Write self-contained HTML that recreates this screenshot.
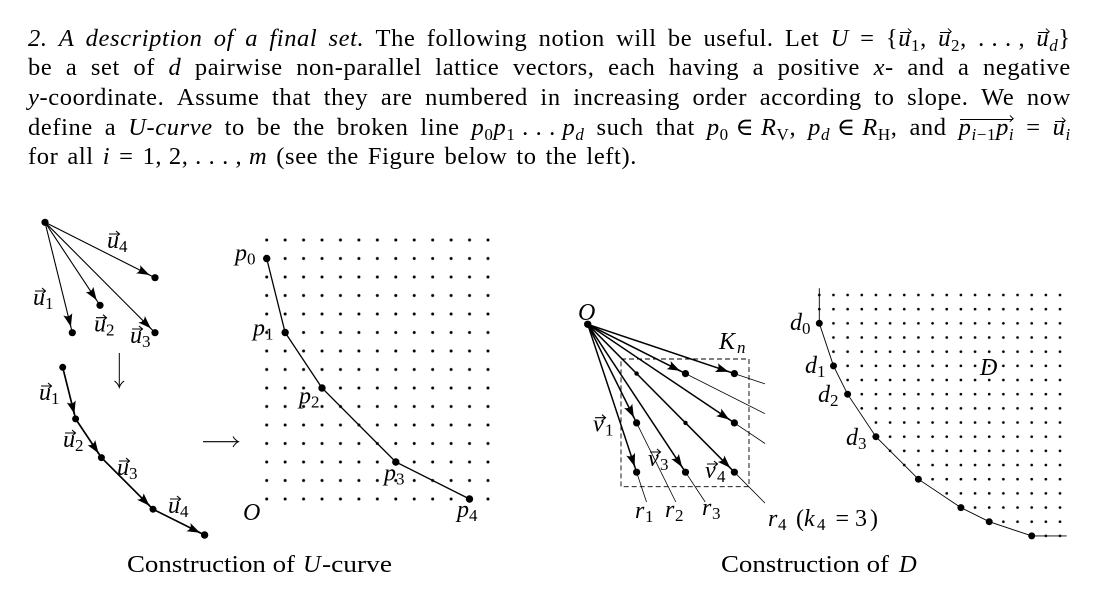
<!DOCTYPE html>
<html><head><meta charset="utf-8">
<style>
body{margin:0;width:1100px;height:592px;position:relative;background:#fff;overflow:hidden;color:#000}
.ln{position:absolute;left:28px;width:1043px;height:30px;display:flex;justify-content:space-between;align-items:baseline;font-family:"Liberation Serif","DejaVu Serif",serif;font-size:24.5px;line-height:30px;letter-spacing:0.6px}
.ln>span{white-space:nowrap}
.s{font-size:17px;position:relative;top:5px;font-style:normal}
.si{font-size:17px;position:relative;top:5px;font-style:italic}
.v{position:relative;font-style:italic}
.v::after{content:"";position:absolute;left:2px;top:7px;width:10px;border-top:1.2px solid #000}
.v::before{content:"";position:absolute;left:7.5px;top:4.8px;width:3.5px;height:3.5px;border-top:1.2px solid #000;border-right:1.2px solid #000;transform:rotate(45deg)}
.ov{position:relative}
.ov::after{content:"";position:absolute;left:1px;right:1px;top:5px;border-top:1.2px solid #000}
.ov::before{content:"";position:absolute;right:1.5px;top:2.8px;width:3.5px;height:3.5px;border-top:1.2px solid #000;border-right:1.2px solid #000;transform:rotate(45deg)}
svg text{font-family:"Liberation Serif","DejaVu Serif",serif;fill:#000}
.mi{font-style:italic;font-size:24px}
.sb{font-size:17px}
.rm{font-size:24px}
.cap{font-size:24.5px}
</style></head>
<body>

<div class="ln" style="top:23.5px">
<span><i>2.</i></span><span><i>A</i></span><span><i>description</i></span><span><i>of</i></span><span><i>a</i></span><span><i>final</i></span><span><i>set.</i></span><span>The</span><span>following</span><span>notion</span><span>will</span><span>be</span><span>useful.</span><span>Let</span><span><i>U</i></span><span>=</span><span>{<span class="v">u</span><span class="s">1</span>,</span><span><span class="v">u</span><span class="s">2</span>,</span><span>.&nbsp;.&nbsp;.&nbsp;,</span><span><span class="v">u</span><span class="si">d</span>}</span>
</div>

<div class="ln" style="top:53.2px">
<span>be</span><span>a</span><span>set</span><span>of</span><span><i>d</i></span><span>pairwise</span><span>non-parallel</span><span>lattice</span><span>vectors,</span><span>each</span><span>having</span><span>a</span><span>positive</span><span><i>x</i>-</span><span>and</span><span>a</span><span>negative</span>
</div>

<div class="ln" style="top:82.9px">
<span><i>y</i>-coordinate.</span><span>Assume</span><span>that</span><span>they</span><span>are</span><span>numbered</span><span>in</span><span>increasing</span><span>order</span><span>according</span><span>to</span><span>slope.</span><span>We</span><span>now</span>
</div>

<div class="ln" style="top:112.6px">
<span>define</span><span>a</span><span><i>U-curve</i></span><span>to</span><span>be</span><span>the</span><span>broken</span><span>line</span><span><i>p</i><span class="s">0</span><i>p</i><span class="s">1</span>&nbsp;.&nbsp;.&nbsp;.&nbsp;<i>p</i><span class="si">d</span></span><span>such</span><span>that</span><span><i>p</i><span class="s">0</span>&nbsp;∈&nbsp;<i>R</i><span class="s">V</span>,</span><span><i>p</i><span class="si">d</span>&nbsp;∈&nbsp;<i>R</i><span class="s">H</span>,</span><span>and</span><span><span class="ov"><i>p</i><span class="si">i</span><span class="s">−1</span><i>p</i><span class="si">i</span></span></span><span>=</span><span><span class="v">u</span><span class="si">i</span></span>
</div>

<div class="ln" style="top:142.3px;width:609px">
<span>for</span><span>all</span><span><i>i</i></span><span>=</span><span>1,&nbsp;2,&nbsp;.&nbsp;.&nbsp;.&nbsp;,&nbsp;<i>m</i></span><span>(see</span><span>the</span><span>Figure</span><span>below</span><span>to</span><span>the</span><span>left).</span>
</div>

<svg width="1100" height="592" viewBox="0 0 1100 592" style="position:absolute;left:0;top:0">
<defs>
<marker id="ah" viewBox="-14 -6 15 12" refX="0" refY="0" markerWidth="15" markerHeight="12" markerUnits="userSpaceOnUse" orient="auto">
<path d="M0,0 L-13,-4.6 Q-9,0 -13,4.6 Z" fill="#000"/>
</marker>
<pattern id="g1" patternUnits="userSpaceOnUse" x="257.48" y="230.75" width="18.44" height="18.5">
<circle cx="9.22" cy="9.25" r="1.5" fill="#000"/>
</pattern>
<pattern id="g2" patternUnits="userSpaceOnUse" x="812.22" y="287.915" width="14.16" height="14.17">
<circle cx="7.08" cy="7.085" r="1.35" fill="#000"/>
</pattern>
<clipPath id="cp">
<polygon points="816.8,280 816.8,323.3 831,365.9 845.1,394.2 873.4,436.7 915.9,479.2 958.4,507.6 986.7,521.7 1029.2,535.9 1029.2,545 1075,545 1075,280"/>
</clipPath>
</defs>

<!-- LEFT FAN -->
<g stroke="#000" stroke-width="1.1" fill="none">
<line x1="45" y1="222.3" x2="72.3" y2="332.7"/>
<line x1="45" y1="222.3" x2="100" y2="305.3"/>
<line x1="45" y1="222.3" x2="155" y2="332.7"/>
<line x1="45" y1="222.3" x2="155" y2="277.7"/>
<line x1="70.18" y1="323.99" x2="70.9" y2="326.9" marker-end="url(#ah)"/>
<line x1="95.04" y1="297.8" x2="96.7" y2="300.3" marker-end="url(#ah)"/>
<line x1="148.7" y1="326.3" x2="150.8" y2="328.4" marker-end="url(#ah)"/>
<line x1="146.9" y1="273.65" x2="149.6" y2="275" marker-end="url(#ah)"/>
</g>
<g fill="#000">
<circle cx="45" cy="222.3" r="3.6"/><circle cx="72.3" cy="332.7" r="3.6"/><circle cx="100" cy="305.3" r="3.6"/><circle cx="155" cy="332.7" r="3.6"/><circle cx="155" cy="277.7" r="3.6"/>
</g>

<!-- CHAIN -->
<g stroke="#000" stroke-width="1.7" fill="none">
<polyline points="62.7,367.3 75.6,418.9 101.4,457.6 153,509.2 204.6,535"/>
<line x1="73.67" y1="411.14" x2="74.4" y2="414.05" marker-end="url(#ah)"/>
<line x1="96.93" y1="450.9" x2="98.6" y2="453.4" marker-end="url(#ah)"/>
<line x1="147.4" y1="503.6" x2="149.5" y2="505.7" marker-end="url(#ah)"/>
<line x1="197.4" y1="531.5" x2="200.1" y2="532.8" marker-end="url(#ah)"/>
</g>
<g fill="#000">
<circle cx="62.7" cy="367.3" r="3.5"/><circle cx="75.6" cy="418.9" r="3.5"/><circle cx="101.4" cy="457.6" r="3.5"/><circle cx="153" cy="509.2" r="3.5"/><circle cx="204.6" cy="535" r="3.7"/>
</g>

<!-- down arrow and right arrow -->
<g stroke="#000" stroke-width="1" fill="none">
<line x1="119.3" y1="353" x2="119.3" y2="387"/>
<path d="M114.5,381 Q118,383.5 119.3,387.5 Q120.6,383.5 124.1,381"/>
<line x1="203" y1="441.7" x2="238" y2="441.7" stroke-width="1.1"/>
<path d="M233,436.5 Q235,440 238.5,441.7 Q235,443.4 233,447"/>
</g>

<!-- vector labels -->
<g stroke="#000" stroke-width="1.1" fill="none">
<path d="M109,234 h10 M116,231 L119.5,234 L116,237"/>
<path d="M35,291 h10 M42,288 L45.5,291 L42,294"/>
<path d="M96,317.7 h10 M103,314.7 L106.5,317.7 L103,320.7"/>
<path d="M132,329 h10 M139,326 L142.5,329 L139,332"/>
<path d="M41,386 h10 M48,383 L51.5,386 L48,389"/>
<path d="M65,433 h10 M72,430 L75.5,433 L72,436"/>
<path d="M119,461 h10 M126,458 L129.5,461 L126,464"/>
<path d="M170,499 h10 M177,496 L180.5,499 L177,502"/>
<path d="M595,417.7 h10 M602,414.7 L605.5,417.7 L602,420.7"/>
<path d="M650,452 h10 M657,449 L660.5,452 L657,455"/>
<path d="M707,464 h10 M714,461 L717.5,464 L714,467"/>
</g>
<text class="mi" x="107" y="248">u</text><text class="sb" x="119" y="252">4</text>
<text class="mi" x="33" y="305">u</text><text class="sb" x="45" y="309">1</text>
<text class="mi" x="94" y="331.7">u</text><text class="sb" x="106" y="335.7">2</text>
<text class="mi" x="130" y="343">u</text><text class="sb" x="142" y="347">3</text>
<text class="mi" x="39" y="400">u</text><text class="sb" x="51" y="404">1</text>
<text class="mi" x="63" y="447">u</text><text class="sb" x="75" y="451">2</text>
<text class="mi" x="117" y="475">u</text><text class="sb" x="129" y="479">3</text>
<text class="mi" x="168" y="513">u</text><text class="sb" x="180" y="517">4</text>

<!-- MIDDLE GRID -->
<rect x="257.48" y="230.75" width="239.72" height="277.5" fill="url(#g1)"/>
<polyline points="266.7,258.5 285.14,332.5 322,388 395.8,462 469.5,499" fill="none" stroke="#000" stroke-width="1.3"/>
<g fill="#000">
<circle cx="266.7" cy="258.5" r="3.7"/><circle cx="285.14" cy="332.5" r="3.7"/><circle cx="322" cy="388" r="3.7"/><circle cx="395.8" cy="462" r="3.7"/><circle cx="469.5" cy="499" r="3.7"/>
</g>
<text class="mi" x="235" y="260.5">p</text><text class="sb" x="247" y="264.5">0</text>
<text class="mi" x="253" y="335.5">p</text><text class="sb" x="265" y="339.5">1</text>
<text class="mi" x="299" y="403.5">p</text><text class="sb" x="311" y="407.5">2</text>
<text class="mi" x="384" y="480.5">p</text><text class="sb" x="396" y="484.5">3</text>
<text class="mi" x="457" y="517">p</text><text class="sb" x="469" y="521">4</text>
<text class="mi" x="243" y="520">O</text>

<!-- RIGHT FAN -->
<rect x="621" y="359" width="128" height="127.7" fill="none" stroke="#000" stroke-width="0.9" stroke-dasharray="5 3"/>
<g stroke="#000" stroke-width="1.5" fill="none">
<line x1="587.7" y1="324.3" x2="636.6" y2="472.2"/>
<line x1="587.7" y1="324.3" x2="636.6" y2="422.9"/>
<line x1="587.7" y1="324.3" x2="685.5" y2="472.2"/>
<line x1="587.7" y1="324.3" x2="734.4" y2="472.2"/>
<line x1="587.7" y1="324.3" x2="734.4" y2="422.9"/>
<line x1="587.7" y1="324.3" x2="685.5" y2="373.6"/>
<line x1="587.7" y1="324.3" x2="734.4" y2="373.6"/>
<line x1="633.76" y1="463.65" x2="634.7" y2="466.5" marker-end="url(#ah)"/>
<line x1="632.57" y1="414.81" x2="633.9" y2="417.5" marker-end="url(#ah)"/>
<line x1="680.54" y1="464.7" x2="682.2" y2="467.2" marker-end="url(#ah)"/>
<line x1="728.09" y1="465.77" x2="730.2" y2="467.9" marker-end="url(#ah)"/>
<line x1="726.91" y1="417.93" x2="729.4" y2="419.6" marker-end="url(#ah)"/>
<line x1="677.42" y1="369.55" x2="680.1" y2="370.9" marker-end="url(#ah)"/>
<line x1="725.86" y1="370.75" x2="728.7" y2="371.7" marker-end="url(#ah)"/>
</g>
<g stroke="#000" stroke-width="0.8" fill="none">
<line x1="636.6" y1="472.2" x2="646.5" y2="502"/>
<line x1="636.6" y1="422.9" x2="675.8" y2="502"/>
<line x1="685.5" y1="472.2" x2="705.2" y2="502"/>
<line x1="734.4" y1="472.2" x2="765" y2="503.1"/>
<line x1="734.4" y1="422.9" x2="765" y2="443.5"/>
<line x1="685.5" y1="373.6" x2="765" y2="413.7"/>
<line x1="734.4" y1="373.6" x2="765" y2="383.9"/>
</g>
<g fill="#000">
<circle cx="587.7" cy="324.3" r="3.7"/>
<circle cx="636.6" cy="472.2" r="3.6"/><circle cx="636.6" cy="422.9" r="3.6"/><circle cx="685.5" cy="472.2" r="3.6"/><circle cx="734.4" cy="472.2" r="3.6"/><circle cx="734.4" cy="422.9" r="3.6"/><circle cx="685.5" cy="373.6" r="3.6"/><circle cx="734.4" cy="373.6" r="3.6"/>
<circle cx="636.6" cy="373.6" r="2.2"/><circle cx="685.5" cy="422.9" r="2.2"/>
</g>
<text class="mi" x="578" y="320">O</text>
<text class="mi" x="719" y="349">K</text><text class="sb" x="737" y="353" font-style="italic">n</text>
<text class="mi" x="593" y="431.7">v</text><text class="sb" x="605" y="435.7">1</text>
<text class="mi" x="648" y="466">v</text><text class="sb" x="660" y="470">3</text>
<text class="mi" x="705" y="478">v</text><text class="sb" x="717" y="482">4</text>
<text class="mi" x="635" y="518">r</text><text class="sb" x="645" y="522">1</text>
<text class="mi" x="665" y="517">r</text><text class="sb" x="675" y="521">2</text>
<text class="mi" x="702" y="515">r</text><text class="sb" x="712" y="519">3</text>
<text class="mi" x="768" y="526">r</text><text class="sb" x="778" y="530">4</text>
<text class="rm" x="796" y="526">(</text><text class="mi" x="804" y="526">k</text><text class="sb" x="817" y="530">4</text>
<text class="rm" x="835.5" y="526">=</text><text class="rm" x="855" y="526">3</text><text class="rm" x="870" y="526">)</text>

<!-- RIGHT GRID -->
<rect x="812.22" y="287.915" width="254.88" height="255.06" fill="url(#g2)" clip-path="url(#cp)"/>
<polyline points="819.3,288.3 819.3,323.3 833.5,365.9 847.6,394.2 875.9,436.7 918.4,479.2 960.9,507.6 989.2,521.7 1031.7,535.9 1066.7,535.9" fill="none" stroke="#000" stroke-width="0.9"/>
<g fill="#000">
<circle cx="819.3" cy="323.3" r="3.5"/><circle cx="833.5" cy="365.9" r="3.5"/><circle cx="847.6" cy="394.2" r="3.5"/><circle cx="875.9" cy="436.7" r="3.5"/><circle cx="918.4" cy="479.2" r="3.5"/><circle cx="960.9" cy="507.6" r="3.5"/><circle cx="989.2" cy="521.7" r="3.5"/><circle cx="1031.7" cy="535.9" r="3.5"/>
</g>
<text class="mi" x="790" y="330">d</text><text class="sb" x="802" y="334">0</text>
<text class="mi" x="805" y="373">d</text><text class="sb" x="817" y="377">1</text>
<text class="mi" x="818" y="402">d</text><text class="sb" x="830" y="406">2</text>
<text class="mi" x="846" y="445">d</text><text class="sb" x="858" y="449">3</text>
<text class="mi" x="980" y="375">D</text>

<!-- CAPTIONS -->
<text class="cap" x="127" y="572" textLength="168" lengthAdjust="spacingAndGlyphs">Construction of</text>
<text class="cap" x="303" y="572" font-style="italic">U</text>
<text class="cap" x="322" y="572" textLength="70" lengthAdjust="spacingAndGlyphs">-curve</text>
<text class="cap" x="721" y="572" textLength="168" lengthAdjust="spacingAndGlyphs">Construction of</text>
<text class="cap" x="899" y="572" font-style="italic">D</text>
</svg>
</body></html>
